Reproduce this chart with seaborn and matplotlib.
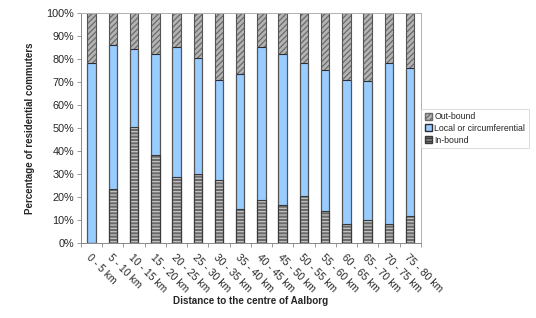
import numpy as np
import pandas as pd
import matplotlib
matplotlib.use("Agg")
import matplotlib.pyplot as plt
import seaborn as sns
from matplotlib.ticker import PercentFormatter, FixedLocator
from matplotlib.patches import Patch, Rectangle

categories = ["0 - 5 km", "5 - 10 km", "10 - 15 km", "15 - 20 km", "20 - 25 km",
              "25 - 30 km", "30 - 35 km", "35 - 40 km", "40 - 45 km", "45 - 50 km",
              "50 - 55 km", "55 - 60 km", "60 - 65 km", "65 - 70 km", "70 - 75 km",
              "75 - 80 km"]
in_bound = [0.0, 23.3, 50.4, 38.1, 28.6, 29.9, 27.3, 14.6, 18.6, 16.4, 20.3, 13.8, 8.4, 9.9, 8.1, 11.6]
local = [78.1, 62.7, 34.1, 44.2, 56.7, 50.7, 43.7, 59.1, 66.6, 65.9, 58.0, 61.3, 62.3, 60.5, 70.2, 64.4]
out_bound = [21.9, 14.0, 15.5, 17.7, 14.7, 19.4, 29.0, 26.3, 14.8, 17.7, 21.7, 24.9, 29.3, 29.6, 21.7, 24.0]

df = pd.DataFrame({"cat": categories, "in": in_bound, "local": local, "out": out_bound})
df["top_local"] = df["in"] + df["local"]
df["top_out"] = df["top_local"] + df["out"]

plt.rcParams["hatch.linewidth"] = 0.9
sns.set_style("white")
plt.rcParams["font.family"] = ["Liberation Sans", "DejaVu Sans"]

fig = plt.figure(figsize=(5.36, 3.18), dpi=100)
ax = fig.add_axes([0.151, 0.236, 0.634, 0.723])

# fc: face colour, hc: hatch colour, oc: outline colour
styles = {
    "out": dict(fc="#b4b4b4", hc="#6a6a6a", oc="#555555", hatch="//////"),
    "local": dict(fc="#99ccff", hc=None, oc="#2b2b3a", hatch=None),
    "in": dict(fc="#6a6a6a", hc="#c4c4c4", oc="#3a3a3a", hatch="-----"),
}

for col, key in [("top_out", "out"), ("top_local", "local"), ("in", "in")]:
    st = styles[key]
    sns.barplot(data=df, x="cat", y=col, ax=ax, width=0.4, color=st["fc"],
                saturation=1, edgecolor=st["hc"] or st["oc"], linewidth=0.8)
    cont = ax.containers[-1]
    for p in cont.patches:
        p.set_facecolor(st["fc"])
        if st["hatch"]:
            p.set_hatch(st["hatch"])
            p.set_edgecolor(st["hc"])
            p.set_linewidth(0)
            outline = Rectangle(p.get_xy(), p.get_width(), p.get_height(), fill=False,
                                edgecolor=st["oc"], linewidth=0.8, zorder=p.get_zorder() + 0.1)
            ax.add_patch(outline)
        else:
            p.set_edgecolor(st["oc"])

ax.set_xlim(-0.4, 15.5)
ax.set_ylim(0, 100)
ax.yaxis.set_major_locator(FixedLocator(np.arange(0, 101, 10)))
ax.yaxis.set_major_formatter(PercentFormatter(decimals=0))
ax.tick_params(axis="y", labelsize=7.8, length=3, width=0.6, color="#888888", left=True, pad=2)
ax.tick_params(axis="x", which="major", length=0, labelsize=7.5, pad=7)
ax.set_xticks(np.arange(-0.5, 16, 1), minor=True)
ax.tick_params(axis="x", which="minor", length=3, width=0.6, color="#888888", bottom=True)
for lab in ax.get_xticklabels():
    lab.set_rotation(-45)
    lab.set_ha("left")
    lab.set_va("top")
    lab.set_rotation_mode("anchor")

for s in ax.spines.values():
    s.set_visible(True)
    s.set_color("#b0b0b0")
    s.set_linewidth(0.7)
ax.spines["left"].set_color("#888888")
ax.spines["bottom"].set_color("#888888")

ax.set_xlabel("Distance to the centre of Aalborg", fontsize=7.1, fontweight="bold", labelpad=1)
ax.set_ylabel("Percentage of residential commuters", fontsize=7.0, fontweight="bold", labelpad=8)

handles = [
    Patch(facecolor=styles["out"]["fc"], edgecolor=styles["out"]["hc"], hatch="//////", label="Out-bound"),
    Patch(facecolor=styles["local"]["fc"], edgecolor=styles["local"]["oc"], label="Local or circumferential"),
    Patch(facecolor="#7a7a7a", edgecolor="#3a3a3a", hatch="-----", label="In-bound"),
]
leg = fig.legend(handles=handles, loc="upper left", bbox_to_anchor=(0.786, 0.658),
                 fontsize=6.3, frameon=True, fancybox=False, edgecolor="#cccccc",
                 handlelength=0.8, handleheight=0.8, handletextpad=0.3, borderpad=0.4,
                 labelspacing=0.3, borderaxespad=0)
leg.get_frame().set_linewidth(0.6)

fig.savefig("out.png", dpi=100)
